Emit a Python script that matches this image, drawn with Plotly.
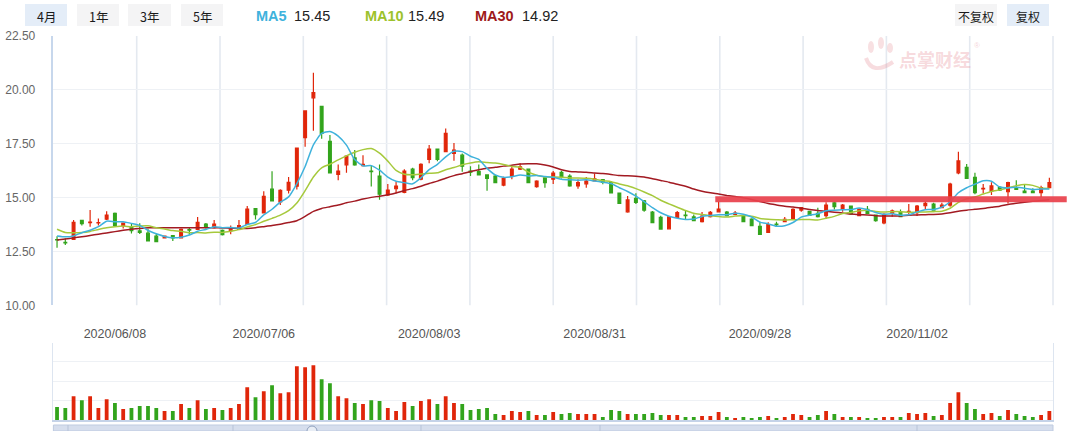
import plotly.graph_objects as go

# ---------------- data ----------------
month_days = {
    "2020-05": [28, 29],
    "2020-06": [1, 2, 3, 4, 5, 8, 9, 10, 11, 12, 15, 16, 17, 18, 19, 22, 23, 24, 29, 30],
    "2020-07": [1, 2, 3, 6, 7, 8, 9, 10, 13, 14, 15, 16, 17, 20, 21, 22, 23, 24, 27, 28, 29, 30, 31],
    "2020-08": [3, 4, 5, 6, 7, 10, 11, 12, 13, 14, 17, 18, 19, 20, 21, 24, 25, 26, 27, 28, 31],
    "2020-09": [1, 2, 3, 4, 7, 8, 9, 10, 11, 14, 15, 16, 17, 18, 21, 22, 23, 24, 25, 28, 29, 30],
    "2020-10": [9, 12, 13, 14, 15, 16, 19, 20, 21, 22, 23, 26, 27, 28, 29, 30],
    "2020-11": [2, 3, 4, 5, 6, 9, 10, 11, 12, 13, 16, 17, 18, 19, 20, 23, 24],
}
dates = [f"{m}-{d:02d}" for m, days in month_days.items() for d in days]

open_ = [13.05, 12.92, 13.06, 13.94, 13.84, 13.82, 14.00, 14.27, 13.70, 13.65,
         13.45, 13.35, 13.21, 13.13, 13.24, 13.13, 13.51, 13.52, 13.77, 13.60,
         13.48, 13.46, 13.52, 13.76, 14.49, 14.29, 15.39, 14.80, 15.34, 15.53,
         17.78, 19.63, 19.23, 17.61, 16.08, 16.52, 16.84, 16.48, 16.23, 16.00,
         15.12, 15.41, 15.24, 16.32, 15.85, 16.77, 17.25, 17.13, 17.05, 16.97,
         16.23, 16.21, 16.05, 16.00, 15.58, 16.00, 16.32, 16.32, 15.51, 15.92,
         15.85, 16.17, 16.00, 15.54, 15.64, 15.78, 15.84, 15.70, 15.21, 14.34,
         14.97, 14.85, 14.33, 14.08, 13.55, 14.08, 14.19, 14.10, 13.88, 14.12,
         14.34, 14.33, 14.22, 14.12, 14.00, 13.66, 13.38, 13.77, 13.88, 14.00,
         14.42, 14.36, 14.27, 14.16, 14.76, 14.45, 14.61, 14.16, 14.45, 14.19,
         13.83, 14.27, 14.34, 14.33, 14.30, 14.62, 14.70, 14.53, 14.65, 16.15,
         16.40, 15.94, 15.40, 15.30, 15.47, 15.27, 15.46, 15.30, 15.30, 15.23,
         15.46]
high = [13.21, 13.11, 13.96, 13.94, 14.42, 14.03, 14.37, 14.31, 13.82, 13.77,
        13.81, 13.55, 13.33, 13.24, 13.24, 13.57, 13.60, 14.10, 13.82, 13.96,
        13.52, 13.70, 13.96, 14.61, 14.49, 15.29, 16.22, 15.39, 15.96, 17.30,
        19.02, 20.79, 19.23, 17.90, 16.54, 16.96, 17.21, 16.97, 16.51, 16.54,
        15.63, 15.73, 16.32, 16.38, 16.59, 17.44, 17.28, 18.21, 17.53, 17.05,
        16.46, 16.54, 16.05, 16.05, 15.97, 16.46, 16.59, 16.32, 15.81, 15.97,
        16.23, 16.24, 16.08, 15.85, 15.95, 16.12, 15.84, 15.77, 15.21, 15.07,
        15.20, 14.89, 14.38, 14.16, 14.10, 14.38, 14.38, 14.22, 14.33, 14.38,
        14.81, 14.38, 14.38, 14.16, 14.04, 13.88, 13.85, 13.88, 14.10, 14.50,
        14.55, 14.38, 14.53, 14.78, 14.81, 14.70, 14.61, 14.50, 14.61, 14.22,
        14.27, 14.45, 14.45, 14.70, 14.65, 14.81, 14.76, 14.76, 15.69, 17.13,
        16.56, 16.15, 15.63, 15.71, 15.54, 15.74, 15.81, 15.58, 15.43, 15.55,
        15.92]
low = [12.67, 12.80, 13.03, 13.70, 13.65, 13.70, 13.96, 13.70, 13.57, 13.33,
       13.31, 12.99, 12.95, 13.12, 12.98, 13.10, 13.27, 13.49, 13.57, 13.57,
       13.24, 13.30, 13.49, 13.73, 13.98, 14.26, 14.85, 14.65, 15.19, 15.37,
       17.36, 18.10, 17.73, 16.15, 15.81, 16.15, 16.48, 16.44, 15.51, 14.90,
       15.07, 15.20, 15.20, 15.81, 15.81, 16.59, 16.69, 17.13, 16.71, 16.20,
       16.00, 16.05, 15.32, 15.69, 15.53, 15.85, 16.28, 15.69, 15.46, 15.46,
       15.63, 15.89, 15.50, 15.41, 15.46, 15.77, 15.62, 15.19, 14.70, 14.30,
       14.70, 14.34, 13.84, 13.54, 13.55, 14.05, 14.00, 13.93, 13.84, 14.07,
       14.32, 14.12, 14.19, 13.88, 13.70, 13.29, 13.38, 13.64, 13.88, 13.96,
       14.34, 14.16, 14.08, 14.00, 14.45, 14.34, 14.19, 14.14, 14.24, 13.88,
       13.76, 14.11, 14.11, 14.16, 14.14, 14.45, 14.39, 14.50, 14.58, 16.08,
       15.86, 15.16, 15.20, 15.12, 15.30, 14.73, 15.35, 15.20, 15.20, 15.01,
       15.43]
close = [13.03, 12.90, 13.85, 13.79, 13.86, 13.84, 14.19, 13.70, 13.82, 13.46,
         13.38, 12.99, 12.95, 13.21, 13.13, 13.52, 13.49, 13.85, 13.62, 13.77,
         13.28, 13.55, 13.70, 14.47, 14.21, 15.06, 14.85, 15.34, 15.71, 17.30,
         19.02, 19.87, 17.98, 16.15, 16.23, 16.93, 16.52, 16.54, 16.20, 15.16,
         15.35, 15.53, 16.23, 15.92, 16.54, 17.25, 16.77, 17.98, 17.20, 16.46,
         16.18, 16.05, 15.89, 15.69, 15.89, 16.32, 16.43, 15.69, 15.77, 15.69,
         16.14, 15.97, 15.54, 15.69, 15.77, 15.87, 15.70, 15.22, 14.73, 14.89,
         14.78, 14.42, 13.84, 13.54, 14.10, 14.30, 14.16, 13.93, 14.14, 14.32,
         14.47, 14.16, 14.28, 13.88, 13.70, 13.29, 13.75, 13.74, 13.99, 14.45,
         14.54, 14.17, 14.11, 14.65, 14.58, 14.65, 14.24, 14.45, 14.27, 13.93,
         14.22, 14.38, 14.11, 14.36, 14.61, 14.73, 14.42, 14.65, 15.63, 16.70,
         15.89, 15.23, 15.43, 15.54, 15.35, 15.69, 15.38, 15.23, 15.23, 15.46,
         15.69]
volume = [13, 12, 24, 20, 24, 12, 21, 17, 11, 12,
          14, 14, 12, 9, 9, 16, 12, 20, 11, 12,
          10, 12, 16, 33, 23, 29, 35, 27, 28, 54,
          53, 55, 41, 37, 24, 22, 17, 16, 20, 19,
          12, 9, 18, 14, 19, 21, 16, 24, 17, 16,
          10, 11, 12, 6, 5, 9, 8, 9, 5, 5,
          8, 6, 7, 6, 6, 6, 3, 10, 9, 6,
          6, 6, 7, 5, 5, 5, 3, 3, 4, 4,
          8, 3, 2, 3, 2, 3, 4, 2, 3, 6,
          5, 3, 5, 9, 6, 3, 3, 3, 2, 2,
          3, 3, 3, 7, 6, 7, 4, 5, 17, 28,
          17, 11, 6, 7, 4, 10, 6, 4, 3, 5,
          9]

# moving-average values at the start of the window (drawn from earlier history)
ma5_head = [13.22, 13.18, 13.22, 13.37]
ma10_head = [13.53, 13.38, 13.37, 13.38, 13.43, 13.52, 13.60, 13.65, 13.68]
ma30_head = [13.03, 13.08, 13.13, 13.18, 13.24, 13.30, 13.36, 13.42, 13.48, 13.53,
             13.57, 13.60, 13.60, 13.60, 13.60, 13.60, 13.60, 13.60, 13.60, 13.60,
             13.59, 13.58, 13.57, 13.57, 13.60, 13.65, 13.70, 13.76, 13.84]

tick_dates = ["2020-06-08", "2020-07-06", "2020-08-03", "2020-08-31", "2020-09-28", "2020-11-02"]
tick_text = ["2020/06/08", "2020/07/06", "2020/08/03", "2020/08/31", "2020/09/28", "2020/11/02"]
price_ticks = [10.0, 12.5, 15.0, 17.5, 20.0, 22.5]

ma_names = ["MA5", "MA10", "MA30"]
ma_values_text = ["15.45", "15.49", "14.92"]
period_buttons = ["4月", "1年", "3年", "5年"]
adjust_buttons = ["不复权", "复权"]
support_level = 14.92
support_start_index = 79.6
support_end_index = 122.1

# ---------------- helpers ----------------
W, H = 1089, 431
FONT = "Liberation Sans, Arial, Noto Sans CJK SC, sans-serif"
CJK = "Noto Sans CJK SC, Liberation Sans, sans-serif"
RED = "#e0260a"
GREEN = "#32a41c"
C_MA5 = "#3fb2dc"
C_MA10 = "#a6c93c"
C_MA30 = "#a21a22"


def px_x(x):
    return x / W


def px_y(y):
    return 1 - y / H


def moving_average(values, n, head):
    out = list(head)
    for i in range(len(head), len(values)):
        out.append(sum(values[i - n + 1:i + 1]) / n)
    return out


ma5 = moving_average(close, 5, ma5_head)
ma10 = moving_average(close, 10, ma10_head)
ma30 = moving_average(close, 30, ma30_head)

xd0, xd1 = px_x(53.4), px_x(1053)
pd0, pd1 = px_y(305.3), px_y(36)
vd0, vd1 = px_y(420), px_y(342.5)
xr0, xr1 = -0.44, len(dates) - 1 + 0.44
yr0, yr1 = 10.0, 22.5

vol_colors = [RED if c > o else GREEN for o, c in zip(open_, close)]

fig = go.Figure()
fig.add_trace(go.Candlestick(
    x=dates, open=open_, high=high, low=low, close=close,
    increasing=dict(line=dict(color=RED, width=1.2), fillcolor=RED),
    decreasing=dict(line=dict(color=GREEN, width=1.2), fillcolor=GREEN),
    whiskerwidth=0, xaxis="x", yaxis="y", hoverinfo="skip", name="K"))
for vals, col, nm in [(ma30, C_MA30, "MA30"), (ma10, C_MA10, "MA10"), (ma5, C_MA5, "MA5")]:
    fig.add_trace(go.Scatter(x=dates, y=vals, mode="lines", name=nm,
                             line=dict(color=col, width=1.5, shape="spline", smoothing=0.6),
                             xaxis="x", yaxis="y", hoverinfo="skip"))
fig.add_trace(go.Bar(x=dates, y=volume, marker=dict(color=vol_colors, line=dict(width=0)),
                     width=0.46, xaxis="x2", yaxis="y2", hoverinfo="skip", name="VOL"))

shapes = []
# vertical grid (12 equal divisions of the plot width)
for k in range(1, 13):
    xx = xd0 + k / 12 * (xd1 - xd0)
    shapes.append(dict(type="line", xref="paper", yref="paper", x0=xx, x1=xx, y0=pd0, y1=pd1,
                       line=dict(color="#e4e9f0", width=1.6), layer="below"))


def idx_to_paper(i):
    return xd0 + (i - xr0) / (xr1 - xr0) * (xd1 - xd0)


def price_to_paper(p):
    return pd0 + (p - yr0) / (yr1 - yr0) * (pd1 - pd0)


# support line
sy = price_to_paper(support_level)
shapes.append(dict(type="line", xref="paper", yref="paper",
                   x0=idx_to_paper(support_start_index), x1=idx_to_paper(support_end_index),
                   y0=sy, y1=sy, line=dict(color="rgba(232,66,76,0.93)", width=6), layer="above"))

# buttons
btn_boxes = [(25, 67), (77, 119), (128, 171), (181, 223)]
annotations = []
for i, (label, (a, b)) in enumerate(zip(period_buttons, btn_boxes)):
    shapes.append(dict(type="rect", xref="paper", yref="paper", x0=px_x(a), x1=px_x(b),
                       y0=px_y(26), y1=px_y(4), line=dict(width=0),
                       fillcolor="#e4edf8" if i == 0 else "#f4f4f5", layer="below"))
    annotations.append(dict(text=label, x=px_x((a + b) / 2), y=px_y(16), xref="paper", yref="paper",
                            showarrow=False, xanchor="center", yanchor="middle",
                            font=dict(family=CJK, size=12.5, color="#1a1a1a")))
adj_boxes = [(955, 997), (1007, 1049)]
for i, (label, (a, b)) in enumerate(zip(adjust_buttons, adj_boxes)):
    shapes.append(dict(type="rect", xref="paper", yref="paper", x0=px_x(a), x1=px_x(b),
                       y0=px_y(26), y1=px_y(4), line=dict(width=0),
                       fillcolor="#e4edf8" if i == 1 else "#f4f4f5", layer="below"))
    annotations.append(dict(text=label, x=px_x((a + b) / 2), y=px_y(16), xref="paper", yref="paper",
                            showarrow=False, xanchor="center", yanchor="middle",
                            font=dict(family=CJK, size=12, color="#1a1a1a")))

# MA legend texts
ma_pos = [(254, 292), (363, 406), (473, 520)]
for nm, val, col, (a, b) in zip(ma_names, ma_values_text, [C_MA5, "#9cc22c", "#9e1a1a"], ma_pos):
    annotations.append(dict(text=f"<b>{nm}</b>", x=px_x(a), y=px_y(16), xref="paper", yref="paper",
                            showarrow=False, xanchor="left", yanchor="middle",
                            font=dict(family=FONT, size=14.5, color=col)))
    annotations.append(dict(text=val, x=px_x(b), y=px_y(16), xref="paper", yref="paper",
                            showarrow=False, xanchor="left", yanchor="middle",
                            font=dict(family=FONT, size=14.5, color="#222")))

# watermark
annotations.append(dict(text="<b>点掌财经</b>", x=px_x(935), y=px_y(59), xref="paper", yref="paper",
                        showarrow=False, xanchor="center", yanchor="middle",
                        font=dict(family=CJK, size=18, color="rgba(228,130,140,0.30)")))
annotations.append(dict(text="®", x=px_x(977), y=px_y(45), xref="paper", yref="paper",
                        showarrow=False, xanchor="center", yanchor="middle",
                        font=dict(family=FONT, size=8, color="rgba(228,130,140,0.35)")))
for (cx, cy, rx, ry) in [(871, 47, 3, 6), (881, 43, 3, 6), (890, 48, 3, 5)]:
    shapes.append(dict(type="circle", xref="paper", yref="paper", x0=px_x(cx - rx), x1=px_x(cx + rx),
                       y0=px_y(cy + ry), y1=px_y(cy - ry), line=dict(width=0),
                       fillcolor="rgba(228,130,140,0.25)", layer="below"))
shapes.append(dict(type="path", xref="paper", yref="paper",
                   path=f"M {px_x(866)},{px_y(58)} Q {px_x(872)},{px_y(76)} {px_x(893)},{px_y(62)}",
                   line=dict(color="rgba(228,130,140,0.28)", width=4), layer="below"))

# navigator strip at the bottom
shapes.append(dict(type="rect", xref="paper", yref="paper", x0=xd0, x1=xd1, y0=0, y1=px_y(425),
                   line=dict(color="#bfcbe0", width=1), fillcolor="#d6deed", layer="below"))
for sx in [68, 233, 421, 600, 917]:
    shapes.append(dict(type="line", xref="paper", yref="paper", x0=px_x(sx), x1=px_x(sx),
                       y0=0, y1=px_y(425), line=dict(color="#b7c3d8", width=1)))
shapes.append(dict(type="circle", xref="paper", yref="paper", x0=px_x(307), x1=px_x(317),
                   y0=px_y(436), y1=px_y(426), line=dict(color="#8fa0bd", width=1),
                   fillcolor="#e8edf5"))

fig.update_layout(
    width=W, height=H, autosize=False, margin=dict(l=0, r=0, t=0, b=0, pad=0),
    paper_bgcolor="white", plot_bgcolor="white", showlegend=False, boxgap=0.52,
    bargap=0.5, font=dict(family=FONT, size=12, color="#333"),
    xaxis=dict(domain=[xd0, xd1], type="category", range=[xr0, xr1], anchor="y",
               rangeslider=dict(visible=False), showgrid=False, zeroline=False,
               tickmode="array", tickvals=tick_dates, ticktext=tick_text, ticks="",
               tickfont=dict(family=FONT, size=12.5, color="#555"), ticklabelstandoff=19,
               showline=False, automargin=False, fixedrange=True),
    yaxis=dict(domain=[pd0, pd1], range=[yr0, yr1], anchor="x", tickmode="array",
               tickvals=price_ticks, tickformat=".2f", showgrid=True, gridcolor="#eef1f5",
               gridwidth=1, showline=True, linecolor="#c7d7ec", linewidth=1.5, zeroline=False,
               ticks="", tickfont=dict(family=FONT, size=12, color="#666"),
               ticklabelstandoff=14, automargin=False, fixedrange=True),
    xaxis2=dict(domain=[xd0, xd1], type="category", range=[xr0, xr1], anchor="y2",
                showticklabels=False, showgrid=False, zeroline=False, ticks="",
                showline=True, linecolor="#c5d3e8", linewidth=1.5, automargin=False),
    yaxis2=dict(domain=[vd0, vd1], range=[0, 78], anchor="x2", tick0=0, dtick=19.5,
                showticklabels=False, showgrid=True, gridcolor="#eef1f5", zeroline=False,
                showline=True, linecolor="#dde5f0", linewidth=1, mirror=True, ticks="",
                automargin=False),
    shapes=shapes, annotations=annotations,
)

fig.write_html("out.html")
